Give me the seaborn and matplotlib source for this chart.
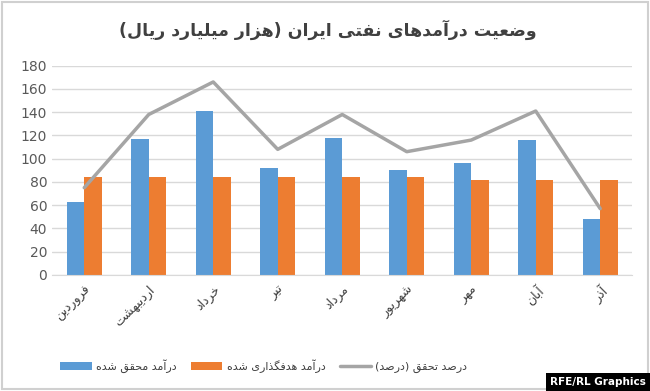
import numpy as np
import pandas as pd
import seaborn as sns
from matplotlib import pyplot as plt
from matplotlib.patches import Rectangle

months = ["فروردین", "اردیبهشت", "خرداد", "تیر", "مرداد", "شهریور", "مهر", "آبان", "آذر"]
realized = [63, 117, 141, 92, 118, 90, 96, 116, 48]
target = [84, 84, 84, 84, 84, 84, 82, 82, 82]
percent = [75, 138, 166, 108, 138, 106, 116, 141, 57]

title = "وضعیت درآمدهای نفتی ایران (هزار میلیارد ریال)"
name_realized = "درآمد محقق شده"
name_target = "درآمد هدفگذاری شده"
name_percent = "درصد تحقق (درصد)"

# presentation forms: isolated, final, initial, medial
FORMS = {
    "ا": "\uFE8D\uFE8E", "آ": "\uFE81\uFE82", "د": "\uFEA9\uFEAA", "ذ": "\uFEAB\uFEAC",
    "ر": "\uFEAD\uFEAE", "ز": "\uFEAF\uFEB0", "و": "\uFEED\uFEEE",
    "ب": "\uFE8F\uFE90\uFE91\uFE92", "ت": "\uFE95\uFE96\uFE97\uFE98",
    "ح": "\uFEA1\uFEA2\uFEA3\uFEA4", "خ": "\uFEA5\uFEA6\uFEA7\uFEA8",
    "ش": "\uFEB5\uFEB6\uFEB7\uFEB8", "ص": "\uFEB9\uFEBA\uFEBB\uFEBC",
    "ض": "\uFEBD\uFEBE\uFEBF\uFEC0", "ع": "\uFEC9\uFECA\uFECB\uFECC",
    "ف": "\uFED1\uFED2\uFED3\uFED4", "ق": "\uFED5\uFED6\uFED7\uFED8",
    "ل": "\uFEDD\uFEDE\uFEDF\uFEE0", "م": "\uFEE1\uFEE2\uFEE3\uFEE4",
    "ن": "\uFEE5\uFEE6\uFEE7\uFEE8", "ه": "\uFEE9\uFEEA\uFEEB\uFEEC",
    "ی": "\uFBFC\uFBFD\uFBFE\uFBFF", "گ": "\uFB92\uFB93\uFB94\uFB95",
}


def fa(text):
    # matplotlib has no shaping/bidi, so pick joined forms and reverse
    out = []
    for i, ch in enumerate(text):
        if ch not in FORMS:
            out.append({"(": ")", ")": "("}.get(ch, ch))
            continue
        f = FORMS[ch]
        prev = i > 0 and text[i - 1] in FORMS and len(FORMS[text[i - 1]]) == 4
        nxt = len(f) == 4 and i + 1 < len(text) and text[i + 1] in FORMS
        if prev and nxt:
            out.append(f[3])
        elif prev:
            out.append(f[1])
        elif nxt:
            out.append(f[2])
        else:
            out.append(f[0])
    return "".join(reversed(out))


sns.set_style("white")
plt.rcParams["font.family"] = ["DejaVu Sans"]

df = pd.DataFrame({
    "month": months * 2,
    "value": realized + target,
    "series": [fa(name_realized)] * len(months) + [fa(name_target)] * len(months),
})

fig = plt.figure(figsize=(6.5, 3.91), dpi=100)
ax = fig.add_axes([0.08, 0.297, 0.893, 0.535])

sns.barplot(data=df, x="month", y="value", hue="series",
            palette=["#5B9BD5", "#ED7D31"], width=0.54, saturation=1,
            linewidth=0, ax=ax, zorder=2)
sns.lineplot(x=np.arange(len(months)), y=percent, color="#A5A5A5", lw=2.5,
             ax=ax, label=fa(name_percent), zorder=3)

ax.set_ylim(0, 180)
ax.set_xlim(-0.5, len(months) - 0.5)
ax.set_yticks(range(0, 181, 20))
ax.yaxis.grid(True, color="#d9d9d9", lw=1)
ax.set_axisbelow(True)
for s in ["top", "right", "left"]:
    ax.spines[s].set_visible(False)
ax.spines["bottom"].set_color("#d9d9d9")
ax.set_xlabel("")
ax.set_ylabel("")
ax.set_xticks(range(len(months)))
ax.set_xticklabels([fa(m) for m in months], rotation=45, ha="right",
                   rotation_mode="anchor", fontsize=9, color="#404040")
ax.tick_params(axis="y", labelsize=10, colors="#595959", length=0)
ax.tick_params(axis="x", length=0, pad=6)

handles, labels = ax.get_legend_handles_labels()
ax.legend(handles, labels, loc="center", bbox_to_anchor=(0.365, -0.435),
          ncol=3, frameon=False, fontsize=8, handlelength=2.8,
          handletextpad=0.4, columnspacing=1.3, labelcolor="#404040")

fig.text(0.505, 0.923, fa(title), ha="center", va="center", fontsize=12.5,
         fontweight="bold", color="#404040")
fig.text(0.994, 0.01, "RFE/RL Graphics", ha="right", va="bottom", fontsize=7.5,
         fontweight="bold", color="white",
         bbox=dict(facecolor="black", edgecolor="none", pad=3))
fig.patches.append(Rectangle((0.003, 0.005), 0.994, 0.99, transform=fig.transFigure,
                             fill=False, edgecolor="#d0d0d0", lw=1.5))

fig.savefig("out.png", dpi=100)
